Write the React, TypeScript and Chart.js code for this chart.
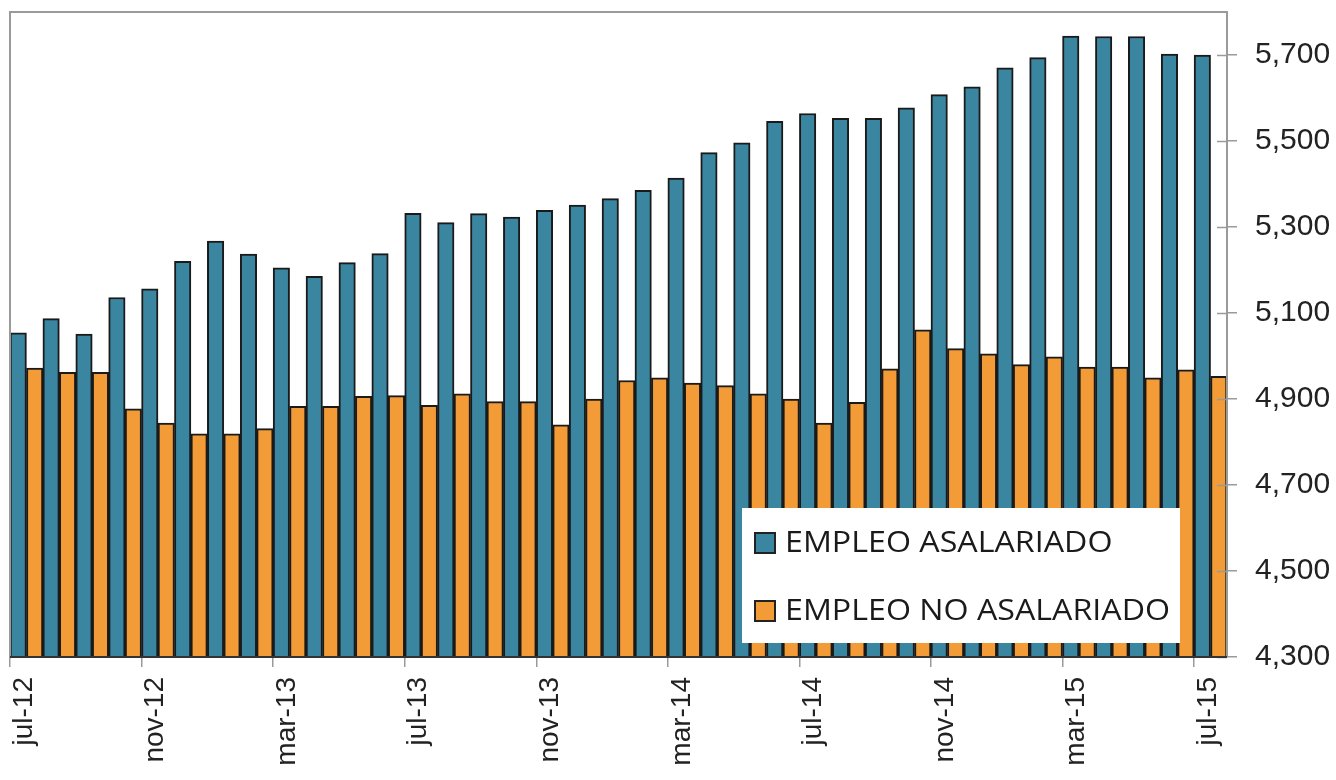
import { useEffect, useRef } from 'react';
import { Chart, registerables } from 'chart.js';

Chart.register(...registerables);

const months: string[] = [
  'jul-12', 'ago-12', 'sep-12', 'oct-12', 'nov-12', 'dic-12', 'ene-13', 'feb-13', 'mar-13', 'abr-13', 'may-13', 'jun-13',
  'jul-13', 'ago-13', 'sep-13', 'oct-13', 'nov-13', 'dic-13', 'ene-14', 'feb-14', 'mar-14', 'abr-14', 'may-14', 'jun-14',
  'jul-14', 'ago-14', 'sep-14', 'oct-14', 'nov-14', 'dic-14', 'ene-15', 'feb-15', 'mar-15', 'abr-15', 'may-15', 'jun-15',
  'jul-15',
];

const asalariado: number[] = [
  5054, 5087, 5051, 5136, 5156, 5220, 5267, 5237, 5205, 5185, 5217, 5238,
  5332, 5310, 5331, 5323, 5339, 5351, 5366, 5385, 5414, 5473, 5496, 5546,
  5564, 5553, 5553, 5577, 5608, 5626, 5670, 5694, 5744, 5743, 5743, 5702,
  5700,
];

const noAsalariado: number[] = [
  4972, 4962, 4962, 4877, 4844, 4819, 4819, 4831, 4883, 4883, 4906, 4908,
  4885, 4912, 4894, 4894, 4840, 4900, 4943, 4949, 4937, 4931, 4912, 4900,
  4844, 4892, 4970, 5061, 5017, 5005, 4980, 4998, 4974, 4974, 4949, 4968,
  4953,
];

const seriesNames: string[] = ['EMPLEO ASALARIADO', 'EMPLEO NO ASALARIADO'];

const xTickIndices: number[] = [0, 4, 8, 12, 16, 20, 24, 28, 32, 36];
const yTickValues: number[] = [4300, 4500, 4700, 4900, 5100, 5300, 5500, 5700];
const Y_MIN = 4300;
const Y_MAX = 5800;

const BLUE = '#3a86a0';
const ORANGE = '#f39b36';
const BAR_BORDER = '#1a1a1a';
const FRAME = '#9a9a9a';
const AXIS_FONT = 'Liberation Sans, Arial, sans-serif';
const LEGEND_FONT = '"Open Sans", sans-serif';

const framePlugin = {
  id: 'framePlugin',
  afterDatasetsDraw(chart: any) {
    const { ctx, chartArea } = chart;
    const y = chart.scales.y;
    ctx.save();
    ctx.strokeStyle = FRAME;
    ctx.lineWidth = 1.5;
    yTickValues.forEach((v) => {
      const py = Math.round(y.getPixelForValue(v)) + 0.5;
      ctx.beginPath();
      ctx.moveTo(chartArea.right - 10, py);
      ctx.lineTo(chartArea.right, py);
      ctx.stroke();
    });
    ctx.lineWidth = 2;
    ctx.beginPath();
    ctx.moveTo(chartArea.left, chartArea.bottom);
    ctx.lineTo(chartArea.left, chartArea.top);
    ctx.lineTo(chartArea.right, chartArea.top);
    ctx.lineTo(chartArea.right, chartArea.bottom);
    ctx.stroke();
    ctx.strokeStyle = '#333';
    ctx.beginPath();
    ctx.moveTo(chartArea.left, chartArea.bottom);
    ctx.lineTo(chartArea.right, chartArea.bottom);
    ctx.stroke();
    ctx.restore();
  },
  afterDraw(chart: any) {
    const { ctx, chartArea } = chart;
    const boxRight = chartArea.right - 47;
    const boxBottom = chartArea.bottom - 14;
    const boxW = 438;
    const boxH = 135;
    const boxLeft = boxRight - boxW;
    const boxTop = boxBottom - boxH;
    ctx.save();
    ctx.fillStyle = '#ffffff';
    ctx.fillRect(boxLeft, boxTop, boxW, boxH);
    ctx.font = `29px ${LEGEND_FONT}`;
    ctx.textBaseline = 'middle';
    ctx.textAlign = 'left';
    chart.data.datasets.forEach((ds: any, i: number) => {
      const cy = boxTop + 35 + i * 68;
      const size = 20;
      ctx.fillStyle = ds.backgroundColor;
      ctx.fillRect(boxLeft + 13, cy - size / 2, size, size);
      ctx.strokeStyle = '#222';
      ctx.lineWidth = 2;
      ctx.strokeRect(boxLeft + 13, cy - size / 2, size, size);
      ctx.save();
      ctx.translate(boxLeft + 43, cy + 1);
      ctx.scale(1.11, 1);
      ctx.fillStyle = '#1a1a1a';
      ctx.fillText(ds.label, 0, 0);
      ctx.restore();
    });
    ctx.restore();
  },
};

export default function App() {
  const ref = useRef<HTMLCanvasElement>(null);

  useEffect(() => {
    if (!ref.current) return;
    const chart = new Chart(ref.current, {
      type: 'bar',
      data: {
        labels: months,
        datasets: [
          {
            label: seriesNames[0],
            data: asalariado,
            backgroundColor: BLUE,
            borderColor: BAR_BORDER,
            borderWidth: 2,
            borderSkipped: 'bottom',
            categoryPercentage: 1,
            barPercentage: 1,
          },
          {
            label: seriesNames[1],
            data: noAsalariado,
            backgroundColor: ORANGE,
            borderColor: BAR_BORDER,
            borderWidth: 2,
            borderSkipped: 'bottom',
            categoryPercentage: 1,
            barPercentage: 1,
          },
        ],
      },
      options: {
        animation: false,
        responsive: true,
        maintainAspectRatio: false,
        layout: { padding: { left: 10, top: 12, right: 0, bottom: 0 } },
        plugins: {
          legend: { display: false },
          tooltip: { enabled: false },
        },
        scales: {
          x: {
            type: 'category',
            display: false,
            offset: true,
          },
          x2: {
            type: 'linear',
            position: 'bottom',
            offset: false,
            min: 0,
            max: months.length,
            afterBuildTicks: (scale: any) => {
              scale.ticks = xTickIndices.map((v) => ({ value: v }));
            },
            afterFit: (scale: any) => {
              scale.height = 123;
              scale.paddingLeft = 0;
              scale.paddingRight = 0;
            },
            ticks: {
              autoSkip: false,
              minRotation: 90,
              maxRotation: 90,
              padding: 10,
              labelOffset: 14,
              color: '#222',
              font: { family: AXIS_FONT, size: 28 },
              callback: (value: any) => months[value as number] ?? '',
            },
            grid: {
              display: true,
              offset: false,
              drawOnChartArea: false,
              drawTicks: true,
              tickLength: 10,
              color: FRAME,
              lineWidth: 1.5,
            },
            border: { display: false },
          },
          y: {
            type: 'linear',
            position: 'right',
            min: Y_MIN,
            max: Y_MAX,
            afterBuildTicks: (scale: any) => {
              scale.ticks = yTickValues.map((v) => ({ value: v }));
            },
            afterFit: (scale: any) => {
              scale.width = 109;
              scale.paddingTop = 0;
              scale.paddingBottom = 0;
            },
            ticks: {
              padding: 18,
              color: '#222',
              font: { family: AXIS_FONT, size: 30 },
              callback: (value: any) => Number(value).toLocaleString('en-US'),
            },
            grid: {
              display: true,
              drawOnChartArea: false,
              drawTicks: true,
              tickLength: 10,
              color: FRAME,
              lineWidth: 1.5,
            },
            border: { display: false },
          },
        },
      },
      plugins: [framePlugin],
    } as any);
    return () => chart.destroy();
  }, []);

  return (
    <div style={{ position: 'absolute', left: 0, top: 0, width: 1336, height: 780, background: '#ffffff' }}>
      <canvas ref={ref} />
    </div>
  );
}
